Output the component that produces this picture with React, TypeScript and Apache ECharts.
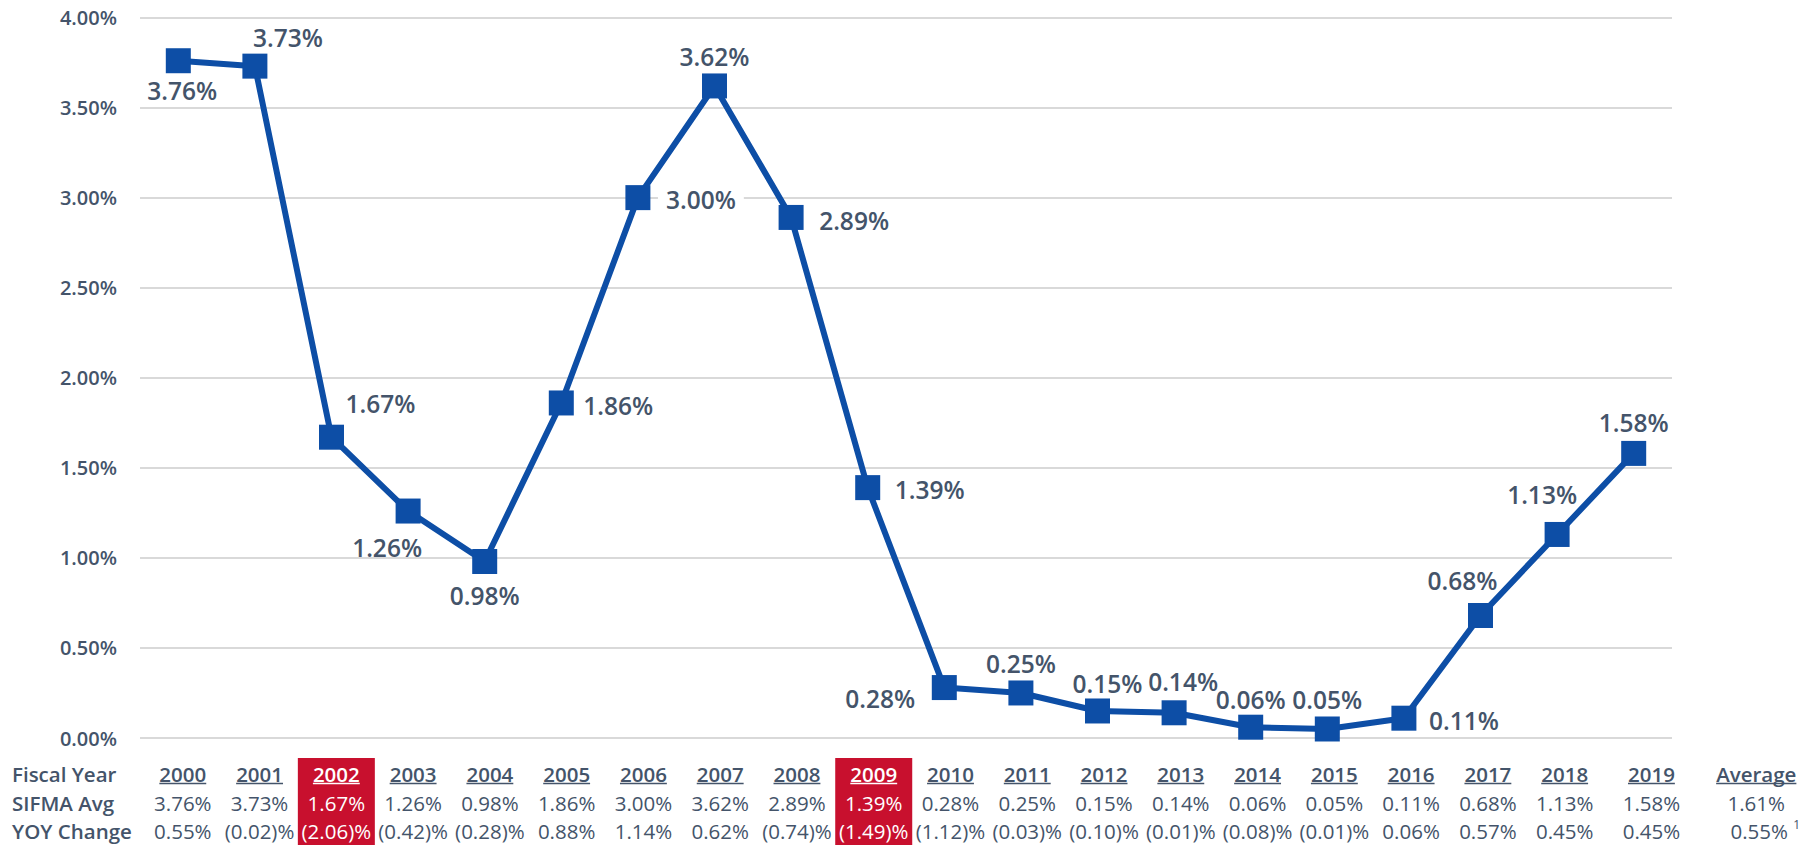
import React, { useEffect, useRef } from "react";
import * as echarts from "echarts";

// ---------- data ----------
const years = [
  "2000", "2001", "2002", "2003", "2004", "2005", "2006", "2007", "2008", "2009",
  "2010", "2011", "2012", "2013", "2014", "2015", "2016", "2017", "2018", "2019",
];
const sifmaAvg = [
  3.76, 3.73, 1.67, 1.26, 0.98, 1.86, 3.0, 3.62, 2.89, 1.39,
  0.28, 0.25, 0.15, 0.14, 0.06, 0.05, 0.11, 0.68, 1.13, 1.58,
];
const yoyChange = [
  0.55, -0.02, -2.06, -0.42, -0.28, 0.88, 1.14, 0.62, -0.74, -1.49,
  -1.12, -0.03, -0.1, -0.01, -0.08, -0.01, 0.06, 0.57, 0.45, 0.45,
];
const highlightYears = ["2002", "2009"];
const rowLabels = ["Fiscal Year", "SIFMA Avg", "YOY Change"];
const averageLabel = "Average";
const averageSifma = 1.61;
const averageYoy = 0.55;
const averageFootnote = "1";
const yMin = 0;
const yMax = 4;
const yInterval = 0.5;

// ---------- styles ----------
const TEXT = "#44546a";
const BLUE = "#0d4ea6";
const RED = "#c8102e";
const GRID = "#d9d9d9";
const FONT = "'Open Sans', 'Noto Sans', sans-serif";
const TABLE_SIZE = 20.5;

// label placement (offset of each value label from its marker centre)
const labelOffsets: [number, number][] = [
  [4, 30], [33, -29], [49, -34], [-21, 36], [0, 34], [57, 3], [63, 2], [0, -29],
  [63, 3], [62, 2], [-64, 11], [0, -29], [10, -27], [9, -31], [0, -28], [0, -29],
  [60, 2], [-18, -35], [-15, -40], [0, -31],
];

const fmtPct = (v: number) =>
  v < 0 ? `(${Math.abs(v).toFixed(2)})%` : `${v.toFixed(2)}%`;

function measure(text: string, font: string): number {
  const c = document.createElement("canvas").getContext("2d");
  if (!c) return text.length * 11;
  c.font = font;
  return c.measureText(text).width;
}

export default function App() {
  const ref = useRef<HTMLDivElement>(null);

  useEffect(() => {
    if (!ref.current) return;
    const chart = echarts.init(ref.current, null, { renderer: "svg" });

    chart.setOption({
      animation: false,
      grid: { left: 140, right: 144, top: 17.5, bottom: 107 },
      xAxis: {
        type: "category",
        data: years,
        boundaryGap: true,
        axisLine: { show: false },
        axisTick: { show: false },
        axisLabel: { show: false },
        splitLine: { show: false },
      },
      yAxis: {
        type: "value",
        min: yMin,
        max: yMax,
        interval: yInterval,
        axisLine: { show: false },
        axisTick: { show: false },
        axisLabel: {
          formatter: (v: number) => `${v.toFixed(2)}%`,
          color: TEXT,
          fontSize: 20,
          fontWeight: 600,
          fontFamily: FONT,
          margin: 23,
        },
        splitLine: { lineStyle: { color: GRID, width: 2 } },
      },
      series: [
        {
          type: "line",
          data: sifmaAvg.map((v, i) => ({
            value: v,
            label: {
              offset: labelOffsets[i],
              ...(i === 6 ? { backgroundColor: "#ffffff", padding: [0, 8] } : {}),
            },
          })),
          symbol: "rect",
          symbolSize: 25,
          lineStyle: { color: BLUE, width: 6 },
          itemStyle: { color: BLUE },
          label: {
            show: true,
            position: "inside",
            formatter: (p: any) => `${Number(p.value).toFixed(2)}%`,
            color: TEXT,
            fontSize: 24.5,
            fontWeight: 600,
            fontFamily: FONT,
            align: "center",
            verticalAlign: "middle",
            textBorderWidth: 0,
          },
          emphasis: { disabled: true },
        },
      ],
    });

    // ---------- data table under the chart ----------
    const xs = years.map((_, i) => chart.convertToPixel({ xAxisIndex: 0 }, i) as number);
    const band = xs[1] - xs[0];
    const colX = (i: number) =>
      xs[i] + 4.5 + 0.17 * i + (i === years.length - 1 ? 10 : 0);
    const avgX = xs[years.length - 1] + 1.6 * band;

    const rowY = [774, 802.5, 830.5];
    const boldFont = `600 ${TABLE_SIZE}px 'Open Sans'`;
    const graphics: any[] = [];

    const txt = (text: string, x: number, y: number, weight: number, fill: string, align = "center", size = TABLE_SIZE) => ({
      type: "text",
      x,
      y,
      z: 10,
      style: {
        text,
        fill,
        fontSize: size,
        fontWeight: weight,
        fontFamily: FONT,
        textAlign: align,
        align,
        textVerticalAlign: "middle",
        verticalAlign: "middle",
      },
    });
    const underline = (text: string, cx: number, fill: string) => {
      const w = measure(text, boldFont);
      return {
        type: "line",
        z: 10,
        shape: { x1: cx - w / 2, y1: 783.5, x2: cx + w / 2, y2: 783.5 },
        style: { stroke: fill, lineWidth: 1.7 },
      };
    };

    rowLabels.forEach((t, r) => graphics.push(txt(t, 12, rowY[r], 600, TEXT, "left")));

    years.forEach((y, i) => {
      const cx = colX(i);
      const hl = highlightYears.includes(y);
      const fill = hl ? "#ffffff" : TEXT;
      if (hl) {
        graphics.push({
          type: "rect",
          z: 5,
          shape: { x: cx - 38.5, y: 758, width: 77, height: 87 },
          style: { fill: RED },
        });
      }
      graphics.push(txt(y, cx, rowY[0], 600, fill));
      graphics.push(underline(y, cx, fill));
      graphics.push(txt(fmtPct(sifmaAvg[i]), cx, rowY[1], 400, fill));
      graphics.push(txt(fmtPct(yoyChange[i]), cx, rowY[2], 400, fill));
    });

    graphics.push(txt(averageLabel, avgX, rowY[0], 600, TEXT));
    graphics.push(underline(averageLabel, avgX, TEXT));
    graphics.push(txt(fmtPct(averageSifma), avgX, rowY[1], 400, TEXT));
    graphics.push(txt(fmtPct(averageYoy), avgX + 3, rowY[2], 400, TEXT));
    graphics.push(txt(averageFootnote, avgX + 37, rowY[2] - 6, 400, TEXT, "left", 12));

    chart.setOption({ graphic: graphics });

    return () => chart.dispose();
  }, []);

  return (
    <div
      ref={ref}
      style={{ position: "fixed", left: 0, top: 0, width: 1816, height: 845, background: "#ffffff" }}
    />
  );
}
